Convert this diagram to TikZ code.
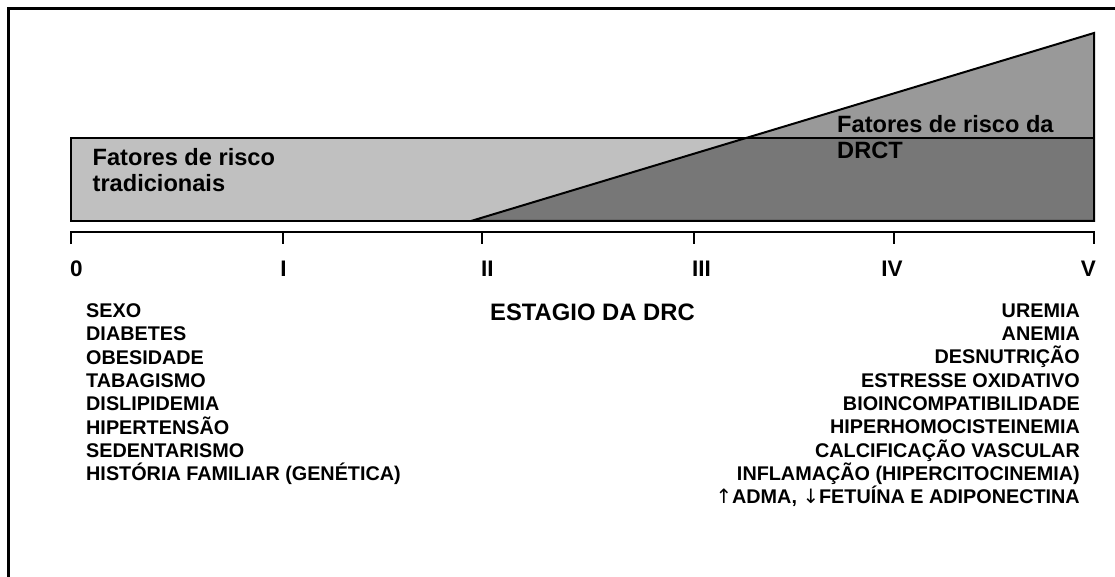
\documentclass[tikz,border=0pt]{standalone}
\usepackage{fontspec}
\setmainfont{Liberation Sans}
\newfontfamily\arrowfont{DejaVu Sans}
\usetikzlibrary{positioning}

\definecolor{bandlight}{HTML}{C0C0C0}
\definecolor{bandmid}{HTML}{999999}
\definecolor{banddark}{HTML}{777777}

\newcommand{\upar}{{\arrowfont\mdseries ↑}}
\newcommand{\downar}{{\arrowfont\mdseries ↓}}

\tikzset{
  stagelabel/.style={font=\fontsize{22.5}{27}\selectfont\bfseries, inner sep=0pt},
  riskhead/.style={font=\fontsize{23.6}{26}\selectfont\bfseries, inner sep=0pt, align=left, anchor=north west},
  risklist/.style={font=\fontsize{19.8}{23.3}\selectfont\bfseries, inner sep=0pt},
}

\begin{document}
\begin{tikzpicture}[x=1pt,y=-1pt]
  \useasboundingbox (0,0) rectangle (1115,577);
  % frame
  \draw[line width=3pt] (8.5,577) -- (8.5,8.5) -- (1115,8.5);

  % bands
  \fill[bandlight] (71,138) rectangle (1094,221);
  \fill[bandmid] (471,221) -- (1094,221) -- (1094,33) -- cycle;
  \begin{scope}
    \clip (71,138) rectangle (1094,221);
    \fill[banddark] (471,221) -- (1094,221) -- (1094,33) -- cycle;
  \end{scope}
  \draw[line width=2pt] (71,138) rectangle (1094,221);
  \draw[line width=2pt,line join=miter] (471,221) -- (1094,221) -- (1094,33) -- cycle;

  \node[riskhead] (trad) at (92.5,148) {Fatores de risco\\tradicionais};
  \node[riskhead] (drct) at (837,115) {Fatores de risco da\\DRCT};

  % axis
  \draw[line width=1.8pt] (71,244) -- (71,232) -- (1094,232) -- (1094,244);
  \draw[line width=1.5pt] (283,232) -- (283,244);
  \draw[line width=1.5pt] (482,232) -- (482,244);
  \draw[line width=1.5pt] (694,232) -- (694,244);
  \draw[line width=1.5pt] (894,232) -- (894,244);

  \node[stagelabel,anchor=base west] (s0) at (70,276) {0};
  \node[stagelabel,anchor=base] (s1) at (283.5,276) {I};
  \node[stagelabel,anchor=base west] (s2) at (481,276) {II};
  \node[stagelabel,anchor=base west] (s3) at (692,276) {III};
  \node[stagelabel,anchor=base] (s4) at (892,276) {IV};
  \node[stagelabel,anchor=base east] (s5) at (1096,276) {V};

  \node[font=\fontsize{23.8}{28}\selectfont\bfseries, inner sep=0pt, anchor=base west] (stage) at (490,320) {ESTAGIO DA DRC};

  % risk factor lists
  \node[risklist,align=left,anchor=north west] (tradlist) at (86,303.5)
    {SEXO\\DIABETES\\OBESIDADE\\TABAGISMO\\DISLIPIDEMIA\\HIPERTENSÃO\\SEDENTARISMO\\HISTÓRIA FAMILIAR (GENÉTICA)};
  \node[risklist,align=right,anchor=north east] (drctlist) at (1080,303.5)
    {UREMIA\\ANEMIA\\DESNUTRIÇÃO\\ESTRESSE OXIDATIVO\\BIOINCOMPATIBILIDADE\\HIPERHOMOCISTEINEMIA\\CALCIFICAÇÃO VASCULAR\\INFLAMAÇÃO (HIPERCITOCINEMIA)\\\upar ADMA, \downar FETUÍNA E ADIPONECTINA};
\end{tikzpicture}
\end{document}
